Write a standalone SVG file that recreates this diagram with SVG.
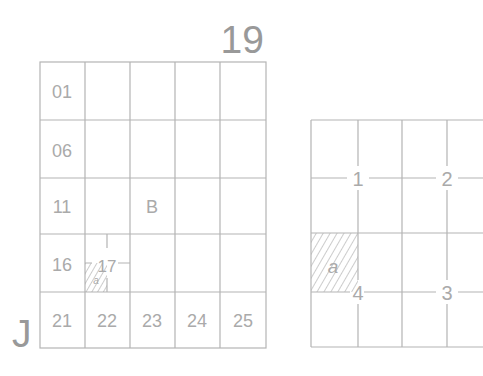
<svg xmlns="http://www.w3.org/2000/svg" width="483" height="376" viewBox="0 0 483 376">
<defs>
<pattern id="hatch" patternUnits="userSpaceOnUse" width="6" height="6" patternTransform="rotate(30)">
<line x1="0" y1="0" x2="0" y2="6" stroke="#999" stroke-width="1"/>
</pattern>
<pattern id="hatchS" patternUnits="userSpaceOnUse" width="5" height="5" patternTransform="rotate(30)">
<line x1="0" y1="0" x2="0" y2="5" stroke="#999" stroke-width="1"/>
</pattern>
</defs>
<style>
.g{stroke:#b4b4b4;stroke-width:1.2;fill:none}
.t{font-family:"Liberation Sans",Arial,sans-serif;fill:#aaa;font-size:18px;text-anchor:middle}
.big{font-family:"Liberation Sans",Arial,sans-serif;fill:#999;font-size:39px}
</style>
<rect width="483" height="376" fill="#fff"/>
<text class="big" x="264" y="53" text-anchor="end">19</text>
<text class="big" x="12" y="347">J</text>
<g id="left-grid">
<rect class="g" x="40" y="62" width="226" height="286"/>
<path class="g" d="M85 62V348M130 62V348M175 62V348M220 62V348M40 120H266M40 178H266M40 234H266M40 292H266"/>
</g>
<g id="cell17">
<rect x="85" y="263" width="22" height="29" fill="url(#hatchS)"/>
<path class="g" d="M85 263H92M118 263H130M107 234V248M107 278V292"/>
<text class="t" x="107" y="272" style="font-size:17px">17</text>
<text class="t" x="96" y="284" style="font-size:10px;font-style:italic">a</text>
</g>
<g id="left-labels">
<text class="t" x="62" y="98">01</text>
<text class="t" x="62" y="157">06</text>
<text class="t" x="62" y="213">11</text>
<text class="t" x="152" y="213">B</text>
<text class="t" x="62" y="271">16</text>
<text class="t" x="62" y="327">21</text>
<text class="t" x="107" y="327">22</text>
<text class="t" x="152" y="327">23</text>
<text class="t" x="197" y="327">24</text>
<text class="t" x="243" y="327">25</text>
</g>
<g id="right-grid">
<rect x="311" y="233" width="47" height="59" fill="url(#hatch)"/>
<path class="g" d="M311 120H490M311 233H490M311 347H490M311 120V347M402 120V347M311 233V292H350M311 178H347M369 178H436M458 178H490M364 292H436M458 292H490M358 120V166M358 190V280M358 304V347M447 120V166M447 190V280M447 304V347"/>
<text class="t" x="333" y="273" style="font-style:italic;font-size:19px">a</text>
<text class="t" x="358" y="186" style="font-size:20px">1</text>
<text class="t" x="447" y="186" style="font-size:20px">2</text>
<text class="t" x="358" y="300" style="font-size:20px">4</text>
<text class="t" x="447" y="300" style="font-size:20px">3</text>
</g>
</svg>
